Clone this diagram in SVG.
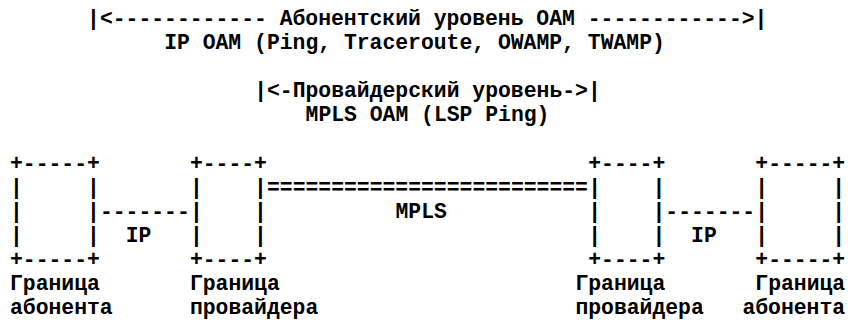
<svg xmlns="http://www.w3.org/2000/svg" width="848" height="320" viewBox="0 0 848 320" xml:space="preserve">
<style>
text { font-family: "Liberation Mono", "DejaVu Sans Mono", monospace; font-size: 21.4px; font-weight: bold; fill: #000; white-space: pre; }
</style>
<rect width="848" height="320" fill="#fff"/>
<g id="oam-levels">
<text x="87.1" y="24.5">|&lt;------------ Абонентский уровень OAM ------------&gt;|</text>
<text x="164.2" y="48.6">IP OAM (Ping, Traceroute, OWAMP, TWAMP)</text>
<text x="254.15" y="97">|&lt;-Провайдерский уровень-&gt;|</text>
<text x="305.55" y="121.1">MPLS OAM (LSP Ping)</text>
</g>
<g id="node-customer-left">
<text x="10" y="169.8">+-----+</text>
<text x="10" y="193.9">|     |</text>
<text x="10" y="218">|     |</text>
<text x="10" y="242.1">|     |</text>
<text x="10" y="266.2">+-----+</text>
<text x="10" y="290.3">Граница</text>
<text x="10" y="314.4">абонента</text>
</g>
<g id="node-provider-left">
<text x="189.9" y="169.8">+----+</text>
<text x="189.9" y="193.9">|    |</text>
<text x="189.9" y="218">|    |</text>
<text x="189.9" y="242.1">|    |</text>
<text x="189.9" y="266.2">+----+</text>
<text x="189.9" y="290.3">Граница</text>
<text x="189.9" y="314.4">провайдера</text>
</g>
<g id="node-provider-right">
<text x="588.25" y="169.8">+----+</text>
<text x="588.25" y="193.9">|    |</text>
<text x="588.25" y="218">|    |</text>
<text x="588.25" y="242.1">|    |</text>
<text x="588.25" y="266.2">+----+</text>
<text x="575.4" y="290.3">Граница</text>
<text x="575.4" y="314.4">провайдера</text>
</g>
<g id="node-customer-right">
<text x="755.3" y="169.8">+-----+</text>
<text x="755.3" y="193.9">|     |</text>
<text x="755.3" y="218">|     |</text>
<text x="755.3" y="242.1">|     |</text>
<text x="755.3" y="266.2">+-----+</text>
<text x="755.3" y="290.3">Граница</text>
<text x="742.45" y="314.4">абонента</text>
</g>
<g id="connectors">
<text x="99.95" y="218">-------</text>
<text x="125.65" y="242.1">IP</text>
<text x="267" y="193.9">=========================</text>
<text x="395.5" y="218">MPLS</text>
<text x="665.35" y="218">-------</text>
<text x="691.05" y="242.1">IP</text>
</g>
</svg>
